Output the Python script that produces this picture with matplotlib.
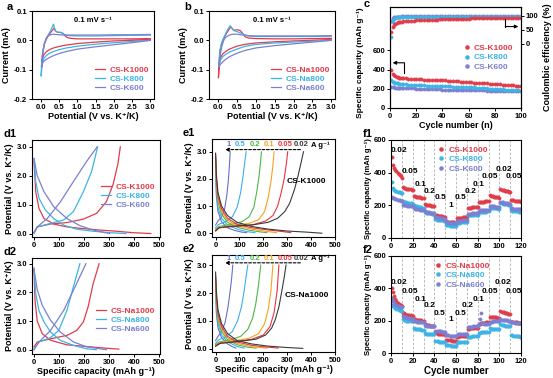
import matplotlib
matplotlib.use('Agg')
import matplotlib.pyplot as plt
import numpy as np

plt.rcParams['font.family'] = ['Liberation Sans', 'DejaVu Sans']
plt.rcParams['font.weight'] = 'bold'
plt.rcParams['axes.labelweight'] = 'bold'
plt.rcParams['axes.linewidth'] = 0.8
plt.rcParams['xtick.major.size'] = 2
plt.rcParams['ytick.major.size'] = 2
plt.rcParams['xtick.major.width'] = 0.7
plt.rcParams['ytick.major.width'] = 0.7
plt.rcParams['xtick.major.pad'] = 1.5
plt.rcParams['ytick.major.pad'] = 1.5

RED, CYAN, PURPLE = '#e03c4a', '#3cb4e6', '#7b80d0'
RATE_COLORS = ['#6670c8', '#3aaef0', '#4db748', '#f7a21b', '#e8343e', '#3a3a3a']
TICK, LAB, PAN = 5.5, 6.5, 8

# ---------------- data ----------------
# a : CV, potassium (loop: cathodic 3.0 -> 0, anodic 0 -> 3.0)
cv_k1000_v = [3.0, 2.5, 2.0, 1.5, 1.0, 0.7, 0.5, 0.35, 0.25, 0.15, 0.08, 0.04, 0.02, 0.03, 0.06, 0.1, 0.15, 0.2, 0.28, 0.33, 0.36, 0.4, 0.45, 0.5, 0.55, 0.6, 0.65, 0.72, 0.8, 1.0, 1.5, 2.0, 2.5, 3.0]
cv_k1000_i = [0.002, 0.0, -0.002, -0.006, -0.011, -0.016, -0.021, -0.026, -0.031, -0.039, -0.05, -0.066, -0.09, -0.07, -0.035, -0.012, 0.003, 0.014, 0.028, 0.036, 0.042, 0.032, 0.028, 0.027, 0.027, 0.024, 0.017, 0.01, 0.007, 0.005, 0.005, 0.005, 0.005, 0.006]
cv_k800_v = [3.0, 2.5, 2.0, 1.5, 1.0, 0.7, 0.5, 0.35, 0.25, 0.15, 0.08, 0.04, 0.01, 0.02, 0.05, 0.1, 0.15, 0.2, 0.27, 0.32, 0.35, 0.38, 0.42, 0.5, 0.55, 0.6, 0.65, 0.72, 0.8, 1.0, 1.5, 2.0, 2.5, 3.0]
cv_k800_i = [0.0, -0.004, -0.008, -0.013, -0.02, -0.026, -0.032, -0.038, -0.043, -0.052, -0.063, -0.08, -0.122, -0.09, -0.04, -0.012, 0.005, 0.018, 0.033, 0.048, 0.055, 0.04, 0.03, 0.027, 0.027, 0.024, 0.02, 0.017, 0.016, 0.015, 0.015, 0.016, 0.017, 0.018]
cv_k600_v = [3.0, 2.5, 2.0, 1.5, 1.0, 0.7, 0.5, 0.35, 0.25, 0.15, 0.08, 0.04, 0.03, 0.05, 0.1, 0.15, 0.2, 0.3, 0.35, 0.4, 0.5, 0.7, 1.0, 1.5, 2.0, 2.5, 3.0]
cv_k600_i = [0.0, -0.008, -0.015, -0.022, -0.03, -0.038, -0.045, -0.052, -0.058, -0.065, -0.072, -0.08, -0.09, -0.05, -0.01, 0.008, 0.016, 0.02, 0.021, 0.02, 0.019, 0.018, 0.018, 0.018, 0.019, 0.019, 0.02]

# b : CV, sodium
cv_na1000_v = [3.0, 2.5, 2.0, 1.5, 1.0, 0.7, 0.5, 0.3, 0.2, 0.12, 0.06, 0.03, 0.01, 0.02, 0.05, 0.1, 0.15, 0.2, 0.27, 0.32, 0.35, 0.4, 0.45, 0.5, 0.55, 0.6, 0.65, 0.72, 0.8, 1.0, 1.5, 2.0, 2.5, 3.0]
cv_na1000_i = [0.003, 0.0, -0.002, -0.005, -0.009, -0.014, -0.02, -0.03, -0.038, -0.047, -0.06, -0.08, -0.128, -0.09, -0.035, -0.01, 0.006, 0.018, 0.033, 0.043, 0.045, 0.036, 0.035, 0.036, 0.035, 0.032, 0.024, 0.012, 0.008, 0.006, 0.005, 0.005, 0.006, 0.007]
cv_na800_v = [3.0, 2.5, 2.0, 1.5, 1.0, 0.7, 0.5, 0.3, 0.2, 0.12, 0.06, 0.03, 0.02, 0.04, 0.08, 0.12, 0.17, 0.22, 0.28, 0.32, 0.36, 0.42, 0.5, 0.6, 0.7, 0.8, 1.0, 1.5, 2.0, 2.5, 3.0]
cv_na800_i = [0.0, -0.003, -0.006, -0.009, -0.014, -0.021, -0.03, -0.04, -0.048, -0.056, -0.068, -0.085, -0.09, -0.045, -0.015, 0.0, 0.015, 0.028, 0.042, 0.05, 0.042, 0.033, 0.03, 0.025, 0.019, 0.015, 0.013, 0.013, 0.013, 0.013, 0.014]
cv_na600_v = [3.0, 2.5, 2.0, 1.5, 1.0, 0.7, 0.5, 0.3, 0.2, 0.12, 0.06, 0.03, 0.05, 0.1, 0.15, 0.2, 0.3, 0.4, 0.5, 0.6, 0.8, 1.0, 1.5, 2.0, 2.5, 3.0]
cv_na600_i = [0.0, -0.006, -0.012, -0.018, -0.026, -0.035, -0.044, -0.056, -0.065, -0.074, -0.082, -0.09, -0.055, -0.02, 0.0, 0.01, 0.018, 0.021, 0.021, 0.019, 0.016, 0.015, 0.015, 0.015, 0.015, 0.016]

# c : cycling at 0.1 A g-1 (capacity left axis, CE right axis)
cyc_c = list(range(1, 11)) + list(range(12, 101, 2))
cap_k1000 = [400, 355, 340, 330, 325, 320, 316, 313, 311, 309,
             307, 305, 303, 301, 299,
             298, 297, 296, 295, 294, 293, 292, 291, 290, 289,
             287, 285, 283, 281, 279, 277, 275, 273, 271, 269,
             267, 265, 263, 261, 259, 257, 255, 253, 251, 249,
             247, 245, 243, 241, 239, 237, 235, 233, 231, 230]
cap_k800 = [290, 275, 268, 263, 259, 256, 253, 251, 249, 247,
            245, 243, 241, 239, 237,
            236, 235, 234, 233, 232, 231, 230, 229, 228, 227,
            226, 225, 224, 223, 222, 221, 220, 219, 218, 217,
            216, 214, 212, 210, 208, 206, 204, 202, 200, 199,
            198, 196, 194, 192, 190, 188, 186, 184, 182, 180]
cap_k600 = [222, 218, 215, 213, 212, 211, 210, 209, 208, 207,
            206, 205, 204, 203, 202,
            201, 200, 199, 198, 197, 196, 195, 194, 193, 192,
            191, 190, 189, 188, 187, 187, 186, 186, 185, 185,
            184, 184, 183, 183, 182, 182, 181, 181, 180, 180,
            179, 179, 178, 178, 177, 177, 176, 176, 175, 175]
ce_k1000 = [43, 60, 68, 72, 75, 77, 78, 79, 80, 81,
            82, 82.5, 83, 83.5, 84,
            84.5, 85, 85.3, 85.6, 86, 86.3, 86.6, 87, 87.3, 87.6,
            88, 88.3, 88.6, 89, 89.2, 89.5, 89.8, 90, 90.2, 90.5,
            90.8, 91, 91.2, 91.5, 91.7, 92, 92.2, 92.4, 92.6, 92.8,
            93, 93.2, 93.4, 93.5, 93.7, 93.8, 94, 94.1, 94.2, 94.3]
ce_k800 = [24, 80, 90, 93, 94.5, 95, 95.5, 95.8, 96, 96.2,
           96.3, 96.4, 96.5, 96.6, 96.6,
           96.7, 96.7, 96.8, 96.8, 96.9, 96.9, 97, 97, 97, 97.1,
           97.1, 97.1, 97.2, 97.2, 97.2, 97.3, 97.3, 97.3, 97.3, 97.4,
           97.4, 97.4, 97.4, 97.5, 97.5, 97.5, 97.5, 97.5, 97.6, 97.6,
           97.6, 97.6, 97.6, 97.7, 97.7, 97.7, 97.7, 97.7, 97.8, 97.8]
ce_k600 = [82, 92, 95, 96.5, 97, 97.4, 97.7, 97.9, 98, 98.1,
           98.2, 98.2, 98.3, 98.3, 98.3,
           98.4, 98.4, 98.4, 98.4, 98.5, 98.5, 98.5, 98.5, 98.5, 98.5,
           98.6, 98.6, 98.6, 98.6, 98.6, 98.6, 98.6, 98.6, 98.6, 98.6,
           98.7, 98.7, 98.7, 98.7, 98.7, 98.7, 98.7, 98.7, 98.7, 98.7,
           98.8, 98.8, 98.8, 98.8, 98.8, 98.8, 98.8, 98.8, 98.8, 98.8]

# d1 : GCD potassium (capacity, potential)
d1_k1000_dis = ([0, 7, 20, 40, 79, 132, 198, 264, 330, 396, 468],
                [2.5, 1.45, 0.87, 0.52, 0.33, 0.23, 0.17, 0.12, 0.08, 0.03, 0.0])
d1_k1000_chg = ([0, 13, 66, 132, 198, 251, 290, 317, 336, 346],
                [0.03, 0.23, 0.33, 0.38, 0.5, 0.7, 1.1, 1.7, 2.4, 3.0])
d1_k800_dis = ([0, 7, 20, 46, 79, 119, 171, 237, 303, 369],
               [2.6, 1.8, 1.22, 0.81, 0.52, 0.29, 0.15, 0.08, 0.03, 0.0])
d1_k800_chg = ([0, 13, 66, 119, 158, 198, 231, 255],
               [0.03, 0.23, 0.35, 0.47, 0.76, 1.45, 2.15, 3.0])
d1_k600_dis = ([0, 13, 40, 79, 132, 185, 237, 303],
               [2.6, 2.0, 1.45, 0.93, 0.52, 0.27, 0.12, 0.0])
d1_k600_chg = ([0, 13, 53, 106, 158, 211, 253],
               [0.0, 0.23, 0.52, 1.1, 1.8, 2.5, 3.0])

# d2 : GCD sodium
d2_na1000_dis = ([0, 4, 13, 33, 66, 132, 198, 264, 340],
                 [2.85, 1.72, 1.0, 0.56, 0.33, 0.17, 0.12, 0.07, 0.02])
d2_na1000_chg = ([0, 13, 66, 132, 171, 198, 217, 237, 261],
                 [0.1, 0.27, 0.38, 0.5, 0.67, 0.97, 1.5, 2.3, 3.0])
d2_na800_dis = ([0, 7, 20, 40, 66, 105, 158, 211, 250],
                [2.8, 1.95, 1.36, 0.97, 0.62, 0.33, 0.15, 0.03, 0.0])
d2_na800_chg = ([0, 20, 66, 99, 132, 158, 184],
                [0.03, 0.27, 0.42, 0.67, 1.37, 2.2, 3.0])
d2_na600_dis = ([0, 13, 33, 66, 105, 158, 211, 290],
                [2.8, 2.1, 1.55, 1.03, 0.62, 0.27, 0.1, 0.0])
d2_na600_chg = ([0, 20, 66, 119, 165, 208],
                [0.0, 0.27, 0.67, 1.37, 2.2, 3.0])

# e1 : CS-K1000 at different rates (1, 0.5, 0.2, 0.1, 0.05, 0.02 A g-1)
rate_labels = ['1', '0.5', '0.2', '0.1', '0.05', '0.02']
e1_chg = [
    ([0, 10, 25, 38, 47, 53, 58, 61], [0.3, 0.45, 0.6, 0.9, 1.4, 1.9, 2.5, 3.0]),
    ([0, 12, 40, 70, 90, 105, 115, 122, 128], [0.2, 0.32, 0.42, 0.6, 0.95, 1.5, 2.1, 2.6, 3.0]),
    ([0, 15, 60, 110, 140, 160, 172, 182, 188, 192], [0.15, 0.25, 0.32, 0.42, 0.6, 0.95, 1.5, 2.1, 2.6, 3.0]),
    ([0, 15, 70, 140, 180, 205, 220, 232, 240, 245], [0.12, 0.22, 0.28, 0.36, 0.5, 0.8, 1.3, 1.9, 2.5, 3.0]),
    ([0, 15, 80, 160, 210, 240, 260, 275, 287, 297, 302], [0.1, 0.2, 0.25, 0.32, 0.45, 0.65, 1.0, 1.5, 2.0, 2.6, 3.0]),
    ([0, 15, 60, 150, 220, 260, 290, 310, 330, 345, 358, 368], [0.08, 0.2, 0.25, 0.3, 0.4, 0.55, 0.8, 1.1, 1.6, 2.1, 2.6, 3.0]),
]
e1_dis = [
    ([0, 3, 10, 25, 50, 80, 110, 130], [2.6, 1.4, 0.8, 0.42, 0.2, 0.1, 0.04, 0.02]),
    ([0, 3, 10, 25, 50, 90, 130, 165], [2.7, 1.6, 0.95, 0.55, 0.3, 0.15, 0.06, 0.02]),
    ([0, 3, 10, 25, 50, 90, 140, 185, 215], [2.8, 1.8, 1.15, 0.7, 0.4, 0.22, 0.11, 0.05, 0.02]),
    ([0, 3, 10, 25, 50, 90, 150, 210, 255], [2.85, 1.9, 1.25, 0.8, 0.48, 0.28, 0.15, 0.07, 0.02]),
    ([0, 3, 10, 25, 50, 90, 150, 220, 280, 315], [2.9, 2.0, 1.35, 0.9, 0.55, 0.33, 0.2, 0.12, 0.06, 0.02]),
    ([0, 3, 10, 25, 50, 90, 150, 220, 300, 380, 445], [2.95, 2.2, 1.5, 1.0, 0.65, 0.4, 0.25, 0.15, 0.08, 0.04, 0.0]),
]

# e2 : CS-Na1000 at different rates
e2_chg = [
    ([0, 10, 25, 40, 52, 60, 67, 72], [0.3, 0.45, 0.62, 0.95, 1.5, 2.0, 2.5, 3.0]),
    ([0, 12, 40, 70, 92, 108, 120, 128, 135], [0.2, 0.32, 0.42, 0.62, 1.0, 1.5, 2.1, 2.6, 3.0]),
    ([0, 15, 60, 105, 135, 155, 168, 180, 189], [0.15, 0.25, 0.32, 0.45, 0.7, 1.1, 1.6, 2.3, 3.0]),
    ([0, 15, 70, 140, 180, 205, 220, 232, 240], [0.12, 0.22, 0.28, 0.38, 0.55, 0.9, 1.4, 2.1, 3.0]),
    ([0, 15, 80, 150, 200, 228, 245, 258, 265], [0.1, 0.2, 0.26, 0.34, 0.5, 0.8, 1.3, 2.1, 3.0]),
    ([0, 20, 100, 170, 210, 235, 250, 265, 278, 288, 295], [0.1, 0.2, 0.27, 0.35, 0.5, 0.75, 1.05, 1.5, 2.1, 2.6, 3.0]),
]
e2_dis = [
    ([0, 3, 10, 25, 50, 70, 85], [2.3, 1.3, 0.75, 0.4, 0.18, 0.08, 0.03]),
    ([0, 3, 10, 25, 50, 90, 120], [2.4, 1.5, 0.9, 0.5, 0.25, 0.09, 0.03]),
    ([0, 3, 10, 25, 50, 90, 135, 170], [2.5, 1.7, 1.05, 0.62, 0.33, 0.15, 0.06, 0.03]),
    ([0, 3, 10, 25, 50, 90, 150, 215], [2.6, 1.8, 1.15, 0.7, 0.4, 0.2, 0.08, 0.03]),
    ([0, 3, 10, 25, 50, 90, 150, 210, 262], [2.65, 1.9, 1.25, 0.8, 0.45, 0.25, 0.13, 0.07, 0.03]),
    ([0, 3, 10, 25, 50, 90, 150, 220, 300, 365], [2.75, 2.1, 1.4, 0.9, 0.55, 0.3, 0.18, 0.1, 0.05, 0.02]),
]

# f : rate capability, 10 cycles per rate step
rate_steps = ['0.02', '0.05', '0.1', '0.2', '0.5', '1', '0.5', '0.2', '0.1', '0.05', '0.02', '0.05']
f1_k1000 = [[498, 445, 430, 418, 408, 400, 392, 385, 378, 370],
            [312, 308, 305, 303, 301, 300, 298, 297, 296, 295],
            [258, 255, 253, 251, 250, 249, 248, 247, 246, 245],
            [208, 205, 203, 201, 200, 199, 198, 197, 196, 195],
            [140, 138, 136, 135, 134, 133, 132, 131, 130, 129],
            [102, 100, 99, 98, 97, 96, 95, 95, 94, 94],
            [120, 122, 123, 124, 125, 126, 127, 127, 128, 129],
            [183, 184, 185, 186, 187, 188, 188, 189, 190, 190],
            [220, 221, 222, 222, 223, 223, 224, 224, 225, 225],
            [262, 260, 258, 256, 254, 252, 250, 249, 248, 247],
            [298, 296, 294, 292, 290, 288, 286, 285, 284, 283],
            [232, 231, 230, 229, 228, 227, 226, 225, 224, 223]]
f1_k800 = [[340, 305, 295, 290, 287, 284, 281, 279, 277, 275],
           [225, 222, 220, 218, 216, 215, 214, 213, 212, 211],
           [200, 197, 195, 193, 191, 189, 188, 187, 186, 185],
           [158, 156, 155, 154, 153, 152, 151, 150, 149, 148],
           [115, 113, 112, 111, 110, 109, 108, 108, 107, 106],
           [80, 78, 77, 76, 75, 75, 74, 74, 73, 72],
           [92, 93, 94, 94, 95, 95, 96, 96, 97, 97],
           [138, 139, 140, 140, 141, 141, 142, 142, 143, 143],
           [158, 159, 160, 160, 161, 161, 162, 162, 163, 163],
           [185, 184, 183, 183, 182, 182, 181, 181, 180, 180],
           [215, 213, 211, 209, 208, 207, 206, 205, 204, 203],
           [170, 168, 167, 166, 165, 164, 163, 162, 161, 160]]
f1_k600 = [[248, 245, 242, 240, 237, 235, 233, 231, 229, 227],
           [205, 202, 200, 199, 198, 197, 196, 195, 194, 193],
           [182, 180, 178, 177, 176, 175, 174, 173, 172, 171],
           [165, 162, 160, 158, 157, 156, 155, 154, 153, 152],
           [128, 126, 124, 123, 122, 121, 120, 119, 118, 118],
           [98, 96, 95, 94, 93, 92, 92, 91, 91, 90],
           [104, 105, 106, 107, 107, 108, 108, 109, 109, 110],
           [148, 149, 150, 150, 151, 151, 152, 152, 153, 153],
           [168, 169, 169, 170, 170, 171, 171, 172, 172, 172],
           [195, 194, 194, 193, 193, 192, 192, 191, 191, 190],
           [222, 220, 218, 216, 215, 214, 213, 212, 211, 210],
           [182, 181, 180, 179, 178, 178, 177, 177, 176, 175]]
f2_na1000 = [[400, 375, 350, 335, 322, 312, 305, 300, 295, 290],
             [250, 245, 240, 238, 236, 235, 233, 232, 230, 228],
             [210, 208, 207, 206, 205, 204, 203, 202, 201, 200],
             [178, 176, 174, 172, 171, 170, 169, 168, 167, 166],
             [125, 122, 120, 119, 118, 117, 116, 115, 115, 114],
             [82, 80, 79, 78, 78, 77, 77, 76, 76, 75],
             [100, 102, 103, 104, 104, 105, 105, 106, 106, 107],
             [150, 151, 152, 153, 153, 154, 154, 155, 155, 156],
             [180, 182, 184, 185, 186, 187, 188, 189, 190, 190],
             [225, 224, 223, 222, 221, 220, 220, 219, 219, 218],
             [258, 256, 254, 252, 250, 248, 246, 244, 242, 240],
             [192, 191, 190, 190, 189, 189, 188, 188, 187, 187]]
f2_na800 = [[300, 290, 283, 278, 274, 270, 267, 264, 262, 260],
            [208, 205, 203, 201, 200, 199, 198, 197, 196, 195],
            [152, 150, 149, 148, 147, 146, 146, 145, 145, 144],
            [122, 120, 119, 118, 117, 117, 116, 116, 115, 115],
            [75, 73, 72, 71, 70, 70, 69, 69, 68, 68],
            [50, 48, 47, 47, 46, 46, 45, 45, 45, 44],
            [64, 65, 66, 67, 67, 68, 68, 69, 69, 70],
            [100, 101, 102, 102, 103, 103, 104, 104, 105, 105],
            [125, 126, 127, 127, 128, 128, 129, 129, 130, 130],
            [152, 151, 150, 149, 148, 148, 147, 147, 146, 146],
            [178, 176, 174, 172, 170, 169, 168, 167, 166, 165],
            [112, 110, 108, 107, 106, 105, 104, 103, 102, 101]]
f2_na600 = [[340, 320, 310, 302, 296, 292, 289, 286, 284, 282],
            [228, 225, 222, 220, 218, 216, 215, 214, 213, 212],
            [198, 196, 195, 194, 193, 192, 191, 191, 190, 190],
            [172, 170, 169, 168, 167, 167, 166, 166, 165, 165],
            [138, 136, 135, 134, 133, 133, 132, 132, 131, 131],
            [112, 110, 109, 108, 108, 107, 107, 106, 106, 106],
            [114, 115, 116, 116, 117, 117, 118, 118, 119, 119],
            [158, 160, 161, 162, 163, 164, 165, 166, 167, 168],
            [180, 210, 250, 185, 183, 182, 181, 181, 180, 180],
            [192, 193, 194, 195, 196, 197, 198, 198, 199, 199],
            [208, 207, 206, 205, 204, 203, 202, 201, 200, 200],
            [190, 189, 189, 188, 188, 187, 187, 186, 186, 185]]
f1_label_pos = [(7.5, 535), (17, 405), (27, 328), (36, 287), (46, 246), (55, 200),
                (64, 246), (73, 287), (81, 328), (91, 375), (104, 420), (113.5, 375)]
f2_label_pos = [(7.5, 439), (17.5, 380), (27, 328), (36, 292), (45, 246), (55, 205),
                (64, 246), (71, 292), (80.5, 332), (91, 380), (103.5, 439), (113.5, 380)]

# ---------------- figure ----------------
W, H = 553, 378
fig = plt.figure(figsize=(W / 100, H / 100), dpi=100)


def box(l, t, r, b):
    return fig.add_axes([l / W, 1 - b / H, (r - l) / W, (b - t) / H])


def style(ax, xlim, ylim, xticks, yticks, xfmt='{:.0f}', yfmt='{:.1f}'):
    ax.set_xlim(*xlim)
    ax.set_ylim(*ylim)
    ax.set_xticks(xticks)
    ax.set_yticks(yticks)
    ax.set_xticklabels([xfmt.format(v) for v in xticks], fontsize=TICK, fontweight='bold')
    ax.set_yticklabels([yfmt.format(v) for v in yticks], fontsize=TICK, fontweight='bold')


def panel(x, y, s):
    fig.text(x / W, 1 - y / H, s, fontsize=PAN, fontweight='bold', va='center', ha='left')


# a, b : CV
for (l, r), data, names, tag in [((32, 154), [(cv_k1000_v, cv_k1000_i), (cv_k800_v, cv_k800_i), (cv_k600_v, cv_k600_i)],
                                  ['CS-K1000', 'CS-K800', 'CS-K600'], 'a'),
                                 ((209, 335), [(cv_na1000_v, cv_na1000_i), (cv_na800_v, cv_na800_i), (cv_na600_v, cv_na600_i)],
                                  ['CS-Na1000', 'CS-Na800', 'CS-Na600'], 'b')]:
    ax = box(l, 11, r, 99)
    for (v, i), c, n in zip(data, [RED, CYAN, PURPLE], names):
        ax.plot(v, i, color=c, lw=0.9, label=n)
    style(ax, (-0.24, 3.1), (-0.2, 0.1), [0, 0.5, 1, 1.5, 2, 2.5, 3], [-0.2, -0.1, 0, 0.1],
          xfmt='{:.1f}', yfmt='{:.1f}')
    ax.set_xlabel('Potential (V vs. K\u207a/K)', fontsize=LAB, labelpad=1)
    ax.set_ylabel('Current (mA)', fontsize=LAB, labelpad=2)
    ax.text(0.5, 0.87, '0.1 mV s\u207b\u00b9', transform=ax.transAxes, fontsize=TICK, ha='center', fontweight='bold')
    ax.legend(loc='lower right', bbox_to_anchor=(1.0, 0.02), frameon=False, fontsize=TICK + 0.5,
              labelcolor='linecolor', handlelength=1.3, handletextpad=0.5, labelspacing=0.15,
              borderaxespad=0.2)
    panel(l - 25, 7, tag)

# c : cycling
ax = box(390, 7, 521, 108)
ax2 = ax.twinx()
for cap, ce, c, n in [(cap_k600, ce_k600, PURPLE, 'CS-K600'), (cap_k800, ce_k800, CYAN, 'CS-K800'),
                      (cap_k1000, ce_k1000, RED, 'CS-K1000')]:
    ax.plot(cyc_c, cap, 'o', ms=2.4, color=c, mec=c, mew=0.3, label=n)
    ax2.plot(cyc_c, ce, 'o', ms=2.4, color=c, mec=c, mew=0.3)
style(ax, (0, 100), (0, 1050), [0, 20, 40, 60, 80, 100], [0, 200, 400, 600], yfmt='{:.0f}')
ax2.set_ylim(-230, 132)
ax2.set_yticks([0, 50, 100])
ax2.set_yticklabels(['0', '50', '100'], fontsize=TICK, fontweight='bold')
ax.set_xlabel('Cycle number (n)', fontsize=LAB, labelpad=1)
ax.set_ylabel('Specific capacity (mAh g\u207b\u00b9)', fontsize=LAB - 0.5, labelpad=1)
ax.yaxis.set_label_coords(-0.2, 0.45)
ax2.set_ylabel('Coulombic efficiency (%)', fontsize=LAB, labelpad=3)
h, lb = ax.get_legend_handles_labels()
ax.legend(h[::-1], lb[::-1], loc='center right', bbox_to_anchor=(1.0, 0.5), frameon=False,
          fontsize=TICK + 0.5, labelcolor='linecolor', handlelength=0.8, handletextpad=0.5,
          labelspacing=0.25, markerscale=1.2)
ax.annotate('', xy=(2, 470), xytext=(11, 470), arrowprops=dict(arrowstyle='-|>', lw=0.8, color='k',
            mutation_scale=5, shrinkA=0, shrinkB=0))
ax.plot([11, 11], [470, 360], color='k', lw=0.8)
ax2.annotate('', xy=(98, 62), xytext=(88, 62), arrowprops=dict(arrowstyle='-|>', lw=0.8, color='k',
             mutation_scale=5, shrinkA=0, shrinkB=0))
ax2.plot([88, 88], [62, 88], color='k', lw=0.8)
panel(364, 4, 'c')

# d1, d2 : GCD
for (t, b), curves, names, tag, ylim, xl, ly in [
        ((140, 237), [(d1_k1000_dis, d1_k1000_chg), (d1_k800_dis, d1_k800_chg), (d1_k600_dis, d1_k600_chg)],
         ['CS-K1000', 'CS-K800', 'CS-K600'], 'd1', (-0.12, 3.24), False, 0.42),
        ((258, 354), [(d2_na1000_dis, d2_na1000_chg), (d2_na800_dis, d2_na800_chg), (d2_na600_dis, d2_na600_chg)],
         ['CS-Na1000', 'CS-Na800', 'CS-Na600'], 'd2', (-0.15, 3.2), True, 0.35)]:
    ax = box(32, t, 160, b)
    for (dis, chg), c, n in zip(curves, [RED, CYAN, PURPLE], names):
        ax.plot(dis[0], dis[1], color=c, lw=0.9, label=n)
        ax.plot(chg[0], chg[1], color=c, lw=0.9)
    style(ax, (-8, 505), ylim, [0, 100, 200, 300, 400, 500], [0, 1, 2, 3])
    ax.set_ylabel('Potential (V vs. K\u207a/K)', fontsize=LAB, labelpad=2)
    if xl:
        ax.set_xlabel('Specific capacity (mAh g\u207b\u00b9)', fontsize=LAB, labelpad=1)
    ax.legend(loc='center right', bbox_to_anchor=(1.0, ly), frameon=False, fontsize=TICK + 0.5,
              labelcolor='linecolor', handlelength=1.3, handletextpad=0.5, labelspacing=0.15,
              borderaxespad=0.2)
    panel(4, t - 6, tag)

# e1, e2 : rates
for (t, b), chg, dis, tag, name, ylim, xl in [
        ((139, 237), e1_chg, e1_dis, 'e1', 'CS-K1000', (-0.14, 3.47), False),
        ((255, 352), e2_chg, e2_dis, 'e2', 'CS-Na1000', (-0.11, 3.36), True)]:
    ax = box(212, t, 335, b)
    for k in range(6):
        ax.plot(dis[k][0], dis[k][1], color=RATE_COLORS[k], lw=0.8)
        ax.plot(chg[k][0], chg[k][1], color=RATE_COLORS[k], lw=0.8)
    style(ax, (-15, 500), ylim, [0, 100, 200, 300, 400, 500], [0, 1, 2, 3])
    ax.set_ylabel('Potential (V vs. K\u207a/K)', fontsize=LAB, labelpad=2)
    if xl:
        ax.set_xlabel('Specific capacity (mAh g\u207b\u00b9)', fontsize=LAB, labelpad=1)
    lx = [55, 103, 166, 224, 290, 358]
    for k in range(6):
        ax.text(lx[k], 3.25, rate_labels[k], color=RATE_COLORS[k], fontsize=TICK, ha='center',
                va='center', fontweight='bold')
    ax.text(398, 3.25, 'A g\u207b\u00b9', fontsize=TICK, ha='left', va='center', fontweight='bold')
    ax.annotate('', xy=(40, 3.08), xytext=(355, 3.08),
                arrowprops=dict(arrowstyle='-|>', lw=0.8, ls=(0, (2.5, 1.5)), color='k',
                                mutation_scale=5, shrinkA=0, shrinkB=0))
    ax.text(380, 1.9, name, fontsize=TICK + 0.5, ha='center', va='center', fontweight='bold')
    panel(183, t - 6, tag)

# f1, f2 : rate capability
for (t, b), series, names, tag, lpos, xlab in [
        ((140, 238), [f1_k1000, f1_k800, f1_k600], ['CS-K1000', 'CS-K800', 'CS-K600'], 'f1', f1_label_pos, None),
        ((256, 353), [f2_na1000, f2_na800, f2_na600], ['CS-Na1000', 'CS-Na800', 'CS-Na600'], 'f2', f2_label_pos,
         'Cycle number')]:
    ax = box(391, t, 521, b)
    for x in range(10, 120, 10):
        ax.axvline(x, color='#b0b0b0', lw=0.6, ls=(0, (3, 2)), zorder=0)
    for s, c, n in zip(series, [RED, CYAN, PURPLE], names):
        vals = [v for seg in s for v in seg]
        ax.plot(range(1, len(vals) + 1), vals, 'o', ms=2.4, color=c, mec=c, mew=0.3, label=n)
    style(ax, (0, 120), (0, 600), [0, 20, 40, 60, 80, 100, 120], [0, 200, 400, 600], yfmt='{:.0f}')
    for (x, y), s in zip(lpos, rate_steps):
        ax.text(x, y, s, fontsize=TICK + 0.5, ha='center', va='center', fontweight='bold')
    ax.set_ylabel('Specific capacity (mAh g\u207b\u00b9)', fontsize=LAB - 0.9, labelpad=1)
    if xlab:
        ax.set_xlabel(xlab, fontsize=LAB + 0.5, labelpad=1)
    ax.legend(loc='upper center', bbox_to_anchor=(0.55, 1.0), frameon=False, fontsize=TICK + 0.5,
              labelcolor='linecolor', handlelength=0.8, handletextpad=0.5, labelspacing=0.2,
              markerscale=1.2, borderaxespad=0.3)
    panel(363, t - 6, tag)

fig.savefig('out.png', dpi=100)
